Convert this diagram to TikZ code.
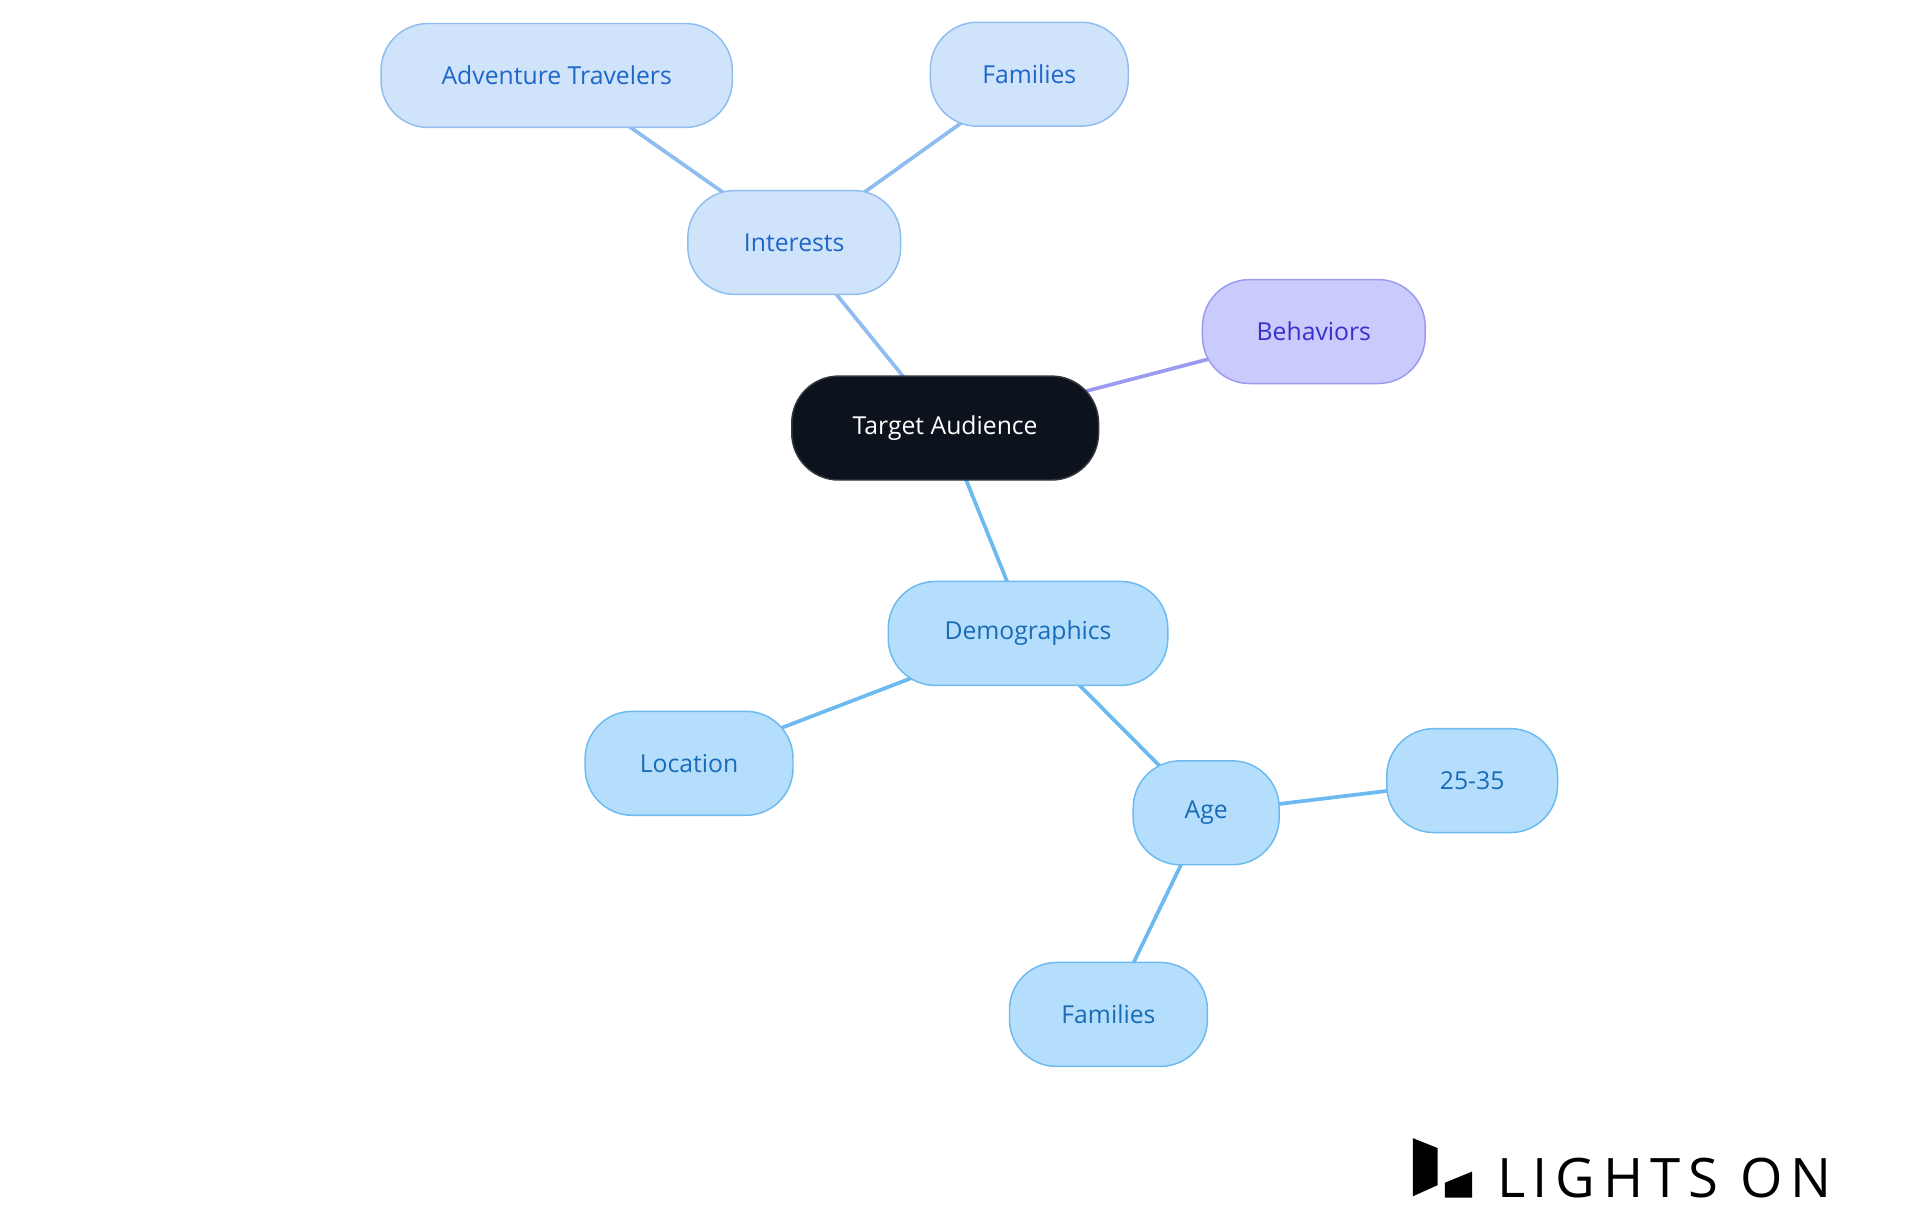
\documentclass[tikz,border=0pt]{standalone}
\usepackage{fontspec}
\setmainfont{Open Sans}
\begin{document}
\begin{tikzpicture}[x=1pt,y=-1pt,
 base/.style={draw,line width=1.2pt,rounded corners=38pt,minimum height=84pt,font=\fontsize{20}{24}\selectfont,inner sep=0pt,outer sep=0pt},
 root/.style={base,fill=root,draw=rootd,text=white},
 intr/.style={base,fill=intf,draw=intd,text=intt},
 beh/.style={base,fill=behf,draw=behd,text=beht},
 dem/.style={base,fill=demf,draw=demd,text=demt},
 ie/.style={draw=intd,line width=3pt},
 be/.style={draw=behd,line width=3pt},
 de/.style={draw=demd,line width=3pt}]
\definecolor{root}{HTML}{0D131C}\definecolor{rootd}{HTML}{333840}
\definecolor{intf}{HTML}{CFE3FB}\definecolor{intd}{HTML}{90BDF0}\definecolor{intt}{HTML}{1E66C8}
\definecolor{behf}{HTML}{CACBFD}\definecolor{behd}{HTML}{9B9AF0}\definecolor{beht}{HTML}{3A2FC8}
\definecolor{demf}{HTML}{B5DEFD}\definecolor{demd}{HTML}{6DBAF0}\definecolor{demt}{HTML}{1A6BB5}
\useasboundingbox (0,0) rectangle (1552,982);
\path (764,346) coordinate (ta) (642,196) coordinate (in) (450,61) coordinate (at)
 (832,60) coordinate (f1) (1062,268) coordinate (be) (831,512) coordinate (de)
 (557,617) coordinate (lo) (975,657) coordinate (ag) (1190,631) coordinate (ra) (896,820) coordinate (f2);
\draw[ie] (ta) -- (in); \draw[ie] (in) -- (at); \draw[ie] (in) -- (f1);
\draw[be] (ta) -- (be);
\draw[de] (ta) -- (de); \draw[de] (de) -- (lo); \draw[de] (de) -- (ag);
\draw[de] (ag) -- (ra); \draw[de] (ag) -- (f2);
\node[root,minimum width=248pt] (nta) at (ta) {Target Audience};
\node[intr,minimum width=172pt] (nin) at (in) {Interests};
\node[intr,minimum width=284pt] (nat) at (at) {Adventure Travelers};
\node[intr,minimum width=160pt] (nf1) at (f1) {Families};
\node[beh,minimum width=180pt] (nbe) at (be) {Behaviors};
\node[dem,minimum width=226pt] (nde) at (de) {Demographics};
\node[dem,minimum width=168pt] (nlo) at (lo) {Location};
\node[dem,minimum width=118pt] (nag) at (ag) {Age};
\node[dem,minimum width=138pt] (nra) at (ra) {25-35};
\node[dem,minimum width=160pt] (nf2) at (f2) {Families};
% logo
\fill[black] (1142,920) -- (1162,928) -- (1162,958) -- (1142,967) -- cycle;
\fill[black] (1168,956) -- (1190,947) -- (1190,968) -- (1168,968) -- cycle;
\node[anchor=base west,inner sep=0pt,font=\fontsize{44}{44}\selectfont\addfontfeature{LetterSpace=14}] (logo) at (1210,968) {LIGHTS ON};
\end{tikzpicture}
\end{document}
